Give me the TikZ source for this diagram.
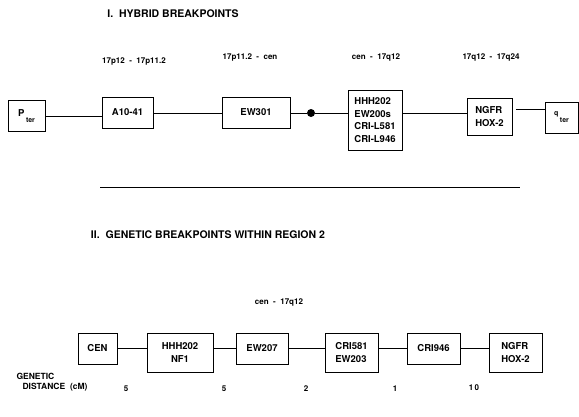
\documentclass[tikz,border=0pt]{standalone}
\usepackage{fontspec}
\setmainfont{TeX Gyre Heros}
\usetikzlibrary{positioning,calc}
\tikzset{
  boite/.style={draw=black,line width=0.9pt,inner sep=2pt,align=center,
                font=\fontsize{9.5}{12.7}\selectfont\bfseries},
  trait/.style={line width=0.9pt},
  titre/.style={font=\fontsize{10.5}{12}\selectfont\bfseries},
  bande/.style={font=\fontsize{8}{9}\selectfont\bfseries},
}
\begin{document}
\begin{tikzpicture}[x=1pt,y=-1pt]
  \useasboundingbox (0,0) rectangle (579,416);
  % partie I
  \node[titre] (t1) at (173,14) {I.\ \ HYBRID BREAKPOINTS};
  \node[bande] (b1) at (134,61) {17p12 \ - \ 17p11.2};
  \node[bande] (b2) at (250,57) {17p11.2 \ - \ cen};
  \node[bande] (b3) at (376,57) {cen \ - \ 17q12};
  \node[bande] (b4) at (491,57) {17q12 \ - \ 17q24};
  \node[boite,minimum width=37pt,minimum height=31pt] (pter) at (26.5,116)
    {\raisebox{3pt}{P}\,\raisebox{-3pt}{\fontsize{7}{8}\selectfont ter}};
  \node[boite,minimum width=51pt,minimum height=31pt] (a10) at (127.5,112.5) {A10-41};
  \node[boite,minimum width=68pt,minimum height=31pt] (ew301) at (256,112.5) {EW301};
  \node[circle,fill=black,inner sep=0pt,minimum size=8pt] (dot) at (311,113) {};
  \node[boite,minimum width=54pt,minimum height=60pt,align=left] (hhh) at (375,120)
    {HHH202\\EW200s\\CRI-L581\\CRI-L946};
  \node[boite,minimum width=45pt,minimum height=37pt,align=left] (ngfr) at (489.5,116.5)
    {NGFR\\HOX-2};
  \node[boite,minimum width=33pt,minimum height=31pt] (qter) at (561.5,117.5)
    {\raisebox{4pt}{\fontsize{7}{8}\selectfont q}\,\raisebox{-3pt}{\fontsize{7}{8}\selectfont ter}};
  \draw[trait] (pter.east) -- (pter.east -| a10.west);
  \foreach \a/\b in {a10/ew301,ew301/dot,dot/hhh,hhh/ngfr}
    {\draw[trait] (\a.east |- dot) -- (\b.west |- dot);}
  \draw[trait] ($(ngfr.east)+(4,-7)$) coordinate (nq) -- (nq -| qter.west);
  \coordinate (s1) at (100,187);
  \coordinate (s2) at (520,187);
  \draw[trait] (s1) -- (s2);
  % partie II
  \node[titre] (t2) at (208,235) {II.\ \ GENETIC BREAKPOINTS WITHIN REGION 2};
  \node[bande] (b5) at (279,302) {cen \ - \ 17q12};
  \node[boite,minimum width=39pt,minimum height=31pt] (cen) at (97.5,348.5) {CEN};
  \node[boite,minimum width=66pt,minimum height=39pt] (hhh2) at (180,352.5) {HHH202\\NF1};
  \node[boite,minimum width=52pt,minimum height=31pt] (ew207) at (262,348.5) {EW207};
  \node[boite,minimum width=53pt,minimum height=39pt,align=left] (cri581) at (351.5,352.5) {CRI581\\EW203};
  \node[boite,minimum width=53pt,minimum height=31pt] (cri946) at (433.5,348.5) {CRI946};
  \node[boite,minimum width=53pt,minimum height=39pt,align=left] (ngfr2) at (515.5,352.5) {NGFR\\HOX-2};
  \foreach \a/\b in {cen/hhh2,hhh2/ew207,ew207/cri581,cri581/cri946,cri946/ngfr2}
    {\draw[trait] (\a.east |- cen) -- (\b.west |- cen);}
  \node[bande,anchor=west,font=\fontsize{8.5}{9}\selectfont\bfseries] (gen) at (13,376) {GENETIC};
  \node[bande,anchor=west,font=\fontsize{8.5}{9}\selectfont\bfseries] (dist) at (19,387) {DISTANCE \ (cM)};
  \node[bande] (d1) at (126,389) {5};
  \node[bande] (d2) at (224,389) {5};
  \node[bande] (d3) at (306,389) {2};
  \node[bande] (d4) at (395,389) {1};
  \node[bande] (d5) at (474,388) {1\,0};
\end{tikzpicture}
\end{document}
